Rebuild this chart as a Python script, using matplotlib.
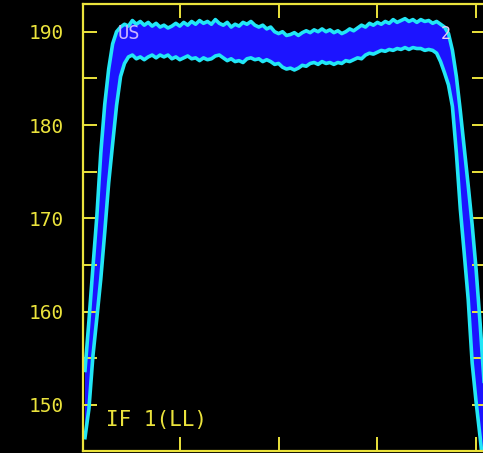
import matplotlib
matplotlib.use("Agg")
import matplotlib.pyplot as plt
from matplotlib.ticker import MultipleLocator

# bandpass amplitude per channel, IF 1 (LL): upper and lower envelope
channels = list(range(1, 103))

amp_upper = [
    153.7, 159.0, 164.7, 170.2, 177.0, 182.2, 186.0, 188.7, 190.0, 190.5,
    190.8, 190.6, 191.2, 190.8, 191.1, 190.7, 191.0, 190.6, 190.9, 190.5,
    190.7, 190.4, 190.6, 190.9, 190.6, 191.0, 190.7, 191.1, 190.8, 191.2,
    190.9, 191.1, 190.8, 191.3, 190.9, 190.7, 191.0, 190.5, 190.8, 190.6,
    191.0, 190.8, 191.1, 190.7, 190.5, 190.7, 190.3, 190.5, 190.0, 189.8,
    190.0, 189.6, 189.7, 189.9, 189.6, 189.9, 190.1, 189.9, 190.2, 190.0,
    190.3, 190.0, 190.2, 189.9, 190.1, 189.8, 190.0, 190.3, 190.1, 190.4,
    190.7, 190.5, 190.9, 190.7, 191.0, 190.8, 191.1, 190.9, 191.3, 191.0,
    191.2, 191.4, 191.1, 191.3, 191.0, 191.3, 191.1, 191.2, 190.9, 191.1,
    190.8, 190.5, 189.8, 188.0, 185.2, 181.5, 177.5, 173.5, 169.3, 164.5,
    158.8, 152.5,
]

amp_lower = [
    146.5, 149.6, 155.2, 159.3, 163.5, 168.5, 173.8, 178.0, 182.1, 185.2,
    186.6, 187.3, 187.5, 187.1, 187.3, 187.0, 187.3, 187.5, 187.2, 187.5,
    187.3, 187.5, 187.1, 187.3, 187.0, 187.2, 187.4, 187.1, 187.2, 186.9,
    187.2, 187.0, 187.1, 187.4, 187.5, 187.2, 186.9, 187.1, 186.8, 186.9,
    186.7, 187.1, 187.2, 187.0, 187.1, 186.8, 187.0, 186.8, 186.5, 186.6,
    186.2, 186.0, 186.1, 185.9, 186.1, 186.4, 186.3, 186.6, 186.7, 186.5,
    186.8, 186.6, 186.7, 186.5, 186.7, 186.6, 186.9, 186.8, 187.0, 187.2,
    187.1, 187.5, 187.7, 187.6, 187.8, 188.0, 187.9, 188.1, 188.0, 188.2,
    188.1, 188.3, 188.1, 188.3, 188.2, 188.2, 188.0, 188.1, 188.0, 187.7,
    186.8, 185.6, 184.3, 182.0, 177.0, 171.0, 166.2, 161.3, 154.5, 150.3,
    146.6, 142.5,
]

y_ticks = [150, 160, 170, 180, 190]
x_ticks = [25, 50, 75, 100]

YELLOW = "#ebe33c"
BLUE = "#1c14ff"
CYAN = "#22e6f6"
MONO = "DejaVu Sans Mono"


def plot_bandpass():
    fig = plt.figure(figsize=(4.83, 4.53), dpi=100, facecolor="black")
    ax = fig.add_axes([83 / 483, 2 / 453, 403 / 483, 447 / 453])
    ax.set_facecolor("black")

    ax.fill_between(channels, amp_lower, amp_upper, color=BLUE, lw=0)
    ax.plot(channels, amp_upper, color=CYAN, lw=2.6)
    ax.plot(channels, amp_lower, color=CYAN, lw=2.6)

    ax.set_xlim(0.5, 102.5)
    ax.set_ylim(145.07, 192.97)

    for side in ax.spines.values():
        side.set_color(YELLOW)
        side.set_linewidth(1.6)

    ax.set_xticks(x_ticks)
    ax.set_xticklabels([])
    ax.set_yticks(y_ticks)
    ax.set_yticklabels([str(v) for v in y_ticks])
    ax.yaxis.set_minor_locator(MultipleLocator(5))
    ax.tick_params(axis="both", which="both", direction="in", length=10,
                   width=1.4, color=YELLOW, top=True, right=True)
    ax.tick_params(axis="y", which="major", pad=13.5, labelcolor=YELLOW,
                   labelsize=14)
    for lab in ax.get_yticklabels():
        lab.set_fontfamily(MONO)

    ax.text(0.085, 0.935, "US", transform=ax.transAxes, color="#c8b4ff",
            fontsize=13.5, family=MONO, va="center", ha="left")
    ax.text(0.888, 0.933, "2", transform=ax.transAxes, color="#eccaf2",
            fontsize=12, family=MONO, va="center", ha="left")
    ax.text(0.058, 0.069, "IF 1(LL)", transform=ax.transAxes, color=YELLOW,
            fontsize=15, family=MONO, va="center", ha="left")

    fig.savefig("out.png", dpi=100, facecolor="black")


def main():
    plot_bandpass()


if __name__ == "__main__":
    main()
